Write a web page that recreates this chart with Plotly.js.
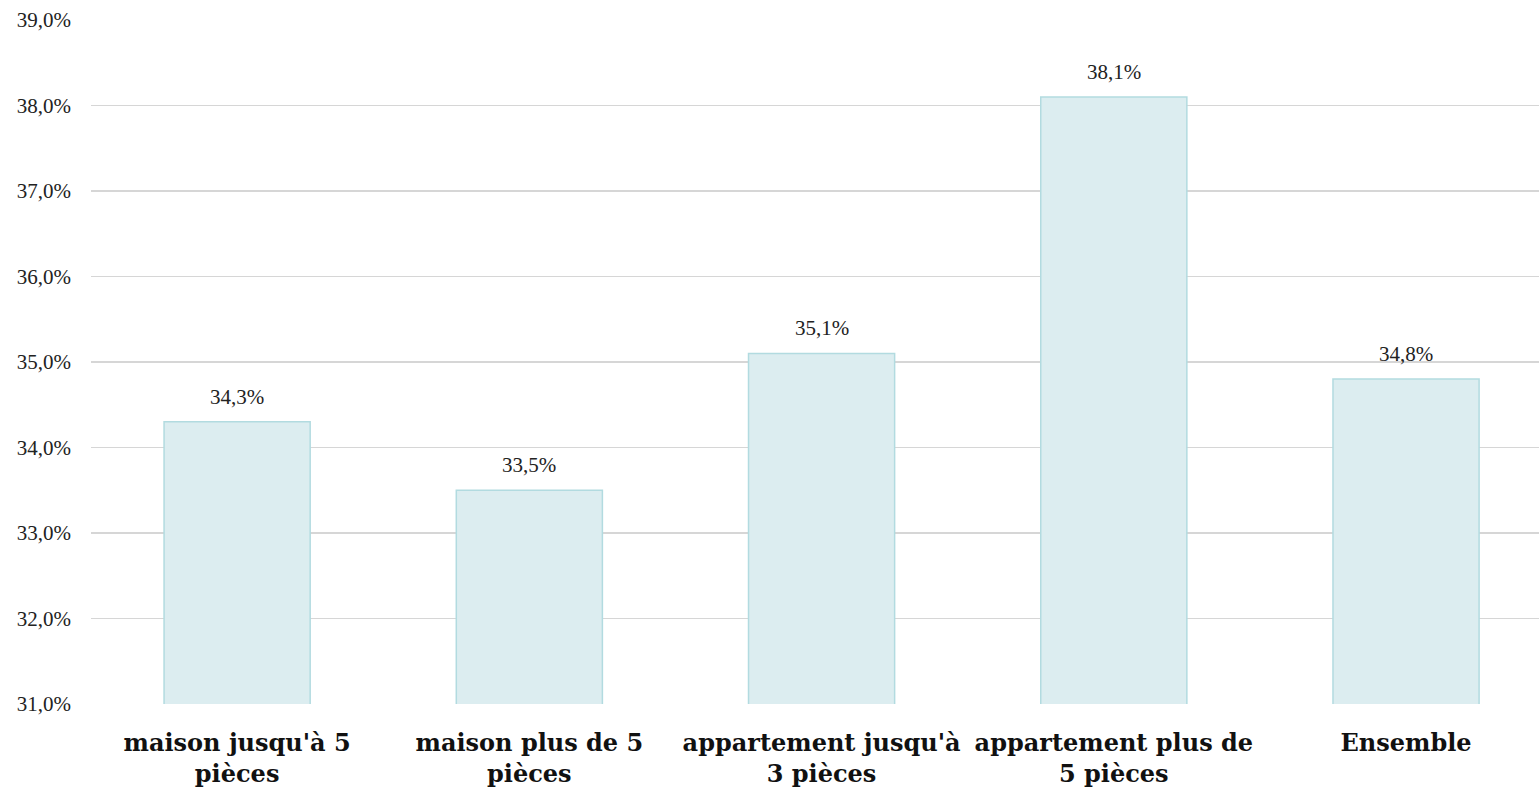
<!DOCTYPE html>
<html>
<head>
<meta charset="utf-8">
<script src="https://cdn.plot.ly/plotly-3.0.1.min.js"></script>
<style>html,body{margin:0;padding:0;background:#fff;}#chart{width:1539px;height:794px;}</style>
</head>
<body>
<div id="chart"></div>
<script>
const categories = ["maison jusqu'à 5<br>pièces", "maison plus de 5<br>pièces", "appartement jusqu'à<br>3 pièces", "appartement plus de<br>5 pièces", "Ensemble"];
const values = [34.3, 33.5, 35.1, 38.1, 34.8];
const valueLabels = ["34,3%", "33,5%", "35,1%", "38,1%", "34,8%"];
const yTicks = [31, 32, 33, 34, 35, 36, 37, 38, 39];
const yTickLabels = ["31,0%", "32,0%", "33,0%", "34,0%", "35,0%", "36,0%", "37,0%", "38,0%", "39,0%"];

const serif = 'Liberation Serif, serif';

const trace = {
  type: 'bar',
  x: categories,
  y: values,
  width: 0.5,
  marker: {color: '#dcedf0', line: {color: '#b2dbe0', width: 1.5}},
  hoverinfo: 'none'
};

const annotations = categories.map((c, i) => ({
  x: c, y: values[i], xref: 'x', yref: 'y',
  text: valueLabels[i], showarrow: false,
  yanchor: 'bottom', yshift: 11,
  font: {family: serif, size: 21, color: '#222'}
}));

const layout = {
  width: 1539, height: 794,
  margin: {l: 91, r: 0, t: 20, b: 90},
  paper_bgcolor: '#fff', plot_bgcolor: '#fff',
  showlegend: false,
  annotations: annotations,
  xaxis: {
    type: 'category',
    range: [-0.5, 4.455],
    tickfont: {family: 'DejaVu Serif, serif', size: 24, color: '#111', weight: 'bold'},
    showgrid: false, zeroline: false, showline: false, ticks: '',
    ticklabelstandoff: 22
  },
  yaxis: {
    range: [31, 39],
    tickmode: 'array',
    tickvals: yTicks,
    ticktext: yTickLabels,
    tickfont: {family: serif, size: 21, color: '#222'},
    showgrid: true, gridcolor: '#d6d6d6', gridwidth: 1.5,
    zeroline: false, showline: false, ticks: '',
    ticklabelstandoff: 19
  }
};

Plotly.newPlot('chart', [trace], layout, {displayModeBar: false, staticPlot: true});
</script>
</body>
</html>
